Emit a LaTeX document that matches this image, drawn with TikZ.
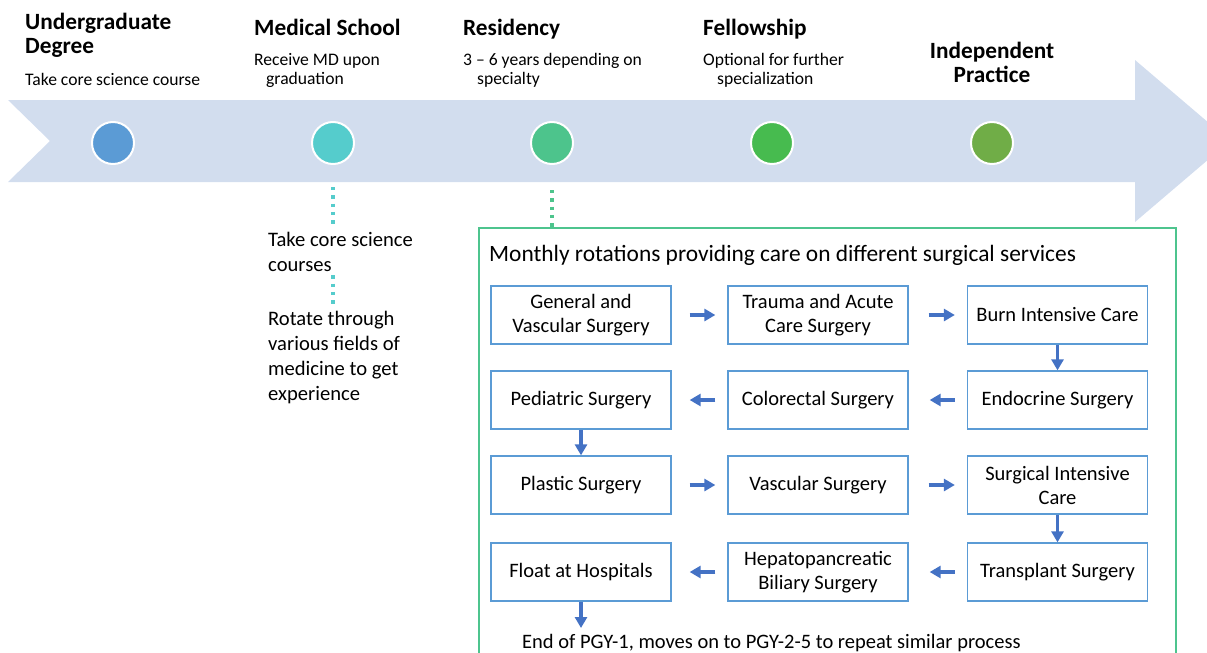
\documentclass[tikz,border=0pt]{standalone}
\usepackage{fontspec}
\setmainfont{Carlito}
\usetikzlibrary{arrows.meta}
\definecolor{band}{HTML}{D2DDEE}
\definecolor{stageA}{HTML}{5B9BD5}
\definecolor{stageB}{HTML}{55CCCC}
\definecolor{stageC}{HTML}{4DC48C}
\definecolor{stageD}{HTML}{47BB4F}
\definecolor{stageE}{HTML}{70AD47}
\definecolor{boxblue}{HTML}{5B9BD5}
\definecolor{flowblue}{HTML}{4472C4}
\definecolor{framegreen}{HTML}{4EC48E}
\begin{document}
\begin{tikzpicture}[x=1pt,y=-1pt,
  title/.style={anchor=base west, inner sep=0pt, align=left,
    font=\bfseries\fontsize{23.3}{24}\selectfont},
  sub/.style={anchor=base west, inner sep=0pt, align=left,
    font=\fontsize{17.6}{19}\selectfont},
  note/.style={anchor=base west, inner sep=0pt, align=left,
    font=\fontsize{20.6}{25}\selectfont},
  stage/.style={circle, minimum size=42pt, inner sep=0pt, draw=white, line width=2pt},
  service/.style={draw=boxblue, line width=1.3pt, minimum width=180pt,
    minimum height=58pt, inner sep=0pt, align=center,
    font=\fontsize{20.5}{24}\selectfont},
  flow/.style={draw=flowblue, line width=3.5pt,
    -{Triangle[length=11pt,width=12pt]}},
  dots/.style={line width=3.3pt, dash pattern=on 3.3pt off 5pt}
]
\useasboundingbox (0,0) rectangle (1207,653);
\clip (0,0) rectangle (1207,653);

% timeline band
\fill[band] (8,100) -- (1135,100) -- (1135,60) -- (1230,141)
  -- (1135,222) -- (1135,182) -- (8,182) -- (50,141) -- cycle;

% stage markers
\node[stage, fill=stageA] (s1) at (113,143) {};
\node[stage, fill=stageB] (s2) at (333,143) {};
\node[stage, fill=stageC] (s3) at (552,143) {};
\node[stage, fill=stageD] (s4) at (772,143) {};
\node[stage, fill=stageE] (s5) at (992,143) {};

% stage headings (multi-line nodes sit on the baseline of their last line)
\node[title] (t1) at (25,53) {Undergraduate\\Degree};
\node[sub] (d1) at (25,85) {Take core science course};
\node[title] (t2) at (254,35) {Medical School};
\node[sub] (d2) at (254,84) {Receive MD upon\\\hspace*{12pt}graduation};
\node[title] (t3) at (463,35) {Residency};
\node[sub] (d3) at (463,84) {3 – 6 years depending on\\\hspace*{14pt}specialty};
\node[title] (t4) at (703,35) {Fellowship};
\node[sub] (d4) at (703,84) {Optional for further\\\hspace*{14pt}specialization};
\node[title, anchor=base, align=center] (t5) at (992,82) {Independent\\Practice};

% medical school details
\node[note] (m1) at (268,271) {Take core science\\courses};
\node[note] (m2) at (268,400) {Rotate through\\various fields of\\medicine to get\\experience};
\draw[dots, stageB, shorten <=22pt, shorten >=7pt] (s2.south) -- (s2.south |- m1.north);
\draw[dots, stageB, shorten <=4pt, shorten >=5pt] (s2.south |- m1.south) -- (s2.south |- m2.north);

% residency frame
\node[draw=framegreen, line width=2pt, minimum width=697pt, minimum height=500pt,
  anchor=north west, inner sep=0pt] (frame) at (478,227) {};
\draw[dots, stageC, shorten <=25pt] (s3.south) -- (s3.south |- frame.north);
\node[note, font=\fontsize{23.4}{25}\selectfont] (hdr) at (489,261)
  {Monthly rotations providing care on different surgical services};

% rotation grid
\node[service] (b1) at (581,315) {General and\\Vascular Surgery};
\node[service] (b2) at (818,315) {Trauma and Acute\\Care Surgery};
\node[service] (b3) at (1057.5,315) {Burn Intensive Care};
\node[service] (b4) at (581,400) {Pediatric Surgery};
\node[service] (b5) at (818,400) {Colorectal Surgery};
\node[service] (b6) at (1057.5,400) {Endocrine Surgery};
\node[service] (b7) at (581,485) {Plastic Surgery};
\node[service] (b8) at (818,485) {Vascular Surgery};
\node[service] (b9) at (1057.5,485) {Surgical Intensive\\Care};
\node[service] (b10) at (581,572) {Float at Hospitals};
\node[service] (b11) at (818,572) {Hepatopancreatic\\Biliary Surgery};
\node[service] (b12) at (1057.5,572) {Transplant Surgery};

\draw[flow, shorten <=18pt, shorten >=12pt] (b1) -- (b2);
\draw[flow, shorten <=20pt, shorten >=12pt] (b2) -- (b3);
\draw[flow] (b3) -- (b6);
\draw[flow, shorten <=12pt, shorten >=21pt] (b6) -- (b5);
\draw[flow, shorten <=12pt, shorten >=18pt] (b5) -- (b4);
\draw[flow] (b4) -- (b7);
\draw[flow, shorten <=18pt, shorten >=12pt] (b7) -- (b8);
\draw[flow, shorten <=20pt, shorten >=12pt] (b8) -- (b9);
\draw[flow] (b9) -- (b12);
\draw[flow, shorten <=12pt, shorten >=21pt] (b12) -- (b11);
\draw[flow, shorten <=12pt, shorten >=18pt] (b11) -- (b10);
\coordinate (nextyear) at (581,628);
\draw[flow] (b10) -- (nextyear);

\node[note, font=\fontsize{20.5}{25}\selectfont] (endnote) at (522,648)
  {End of PGY-1, moves on to PGY-2-5 to repeat similar process};
\end{tikzpicture}
\end{document}
